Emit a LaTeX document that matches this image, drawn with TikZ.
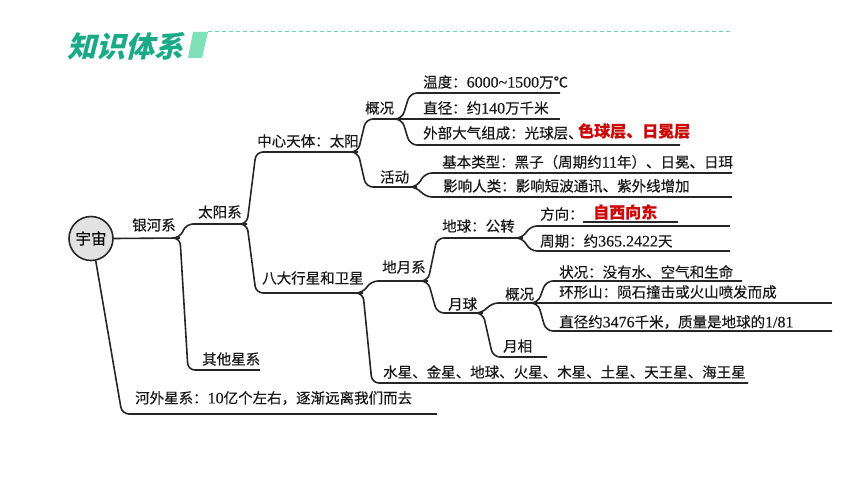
\documentclass[tikz,border=0pt]{standalone}
\usepackage{fontspec}
\setmainfont{Noto Sans CJK SC}[FakeBold=0.35]
\newfontfamily\dgfont{Liberation Serif}[Scale=1.1, FakeBold=0.35]
\newfontfamily\headfont[BoldFeatures={FakeSlant=0.25}]{Noto Sans CJK SC}
\newcommand\dg[1]{{\dgfont #1}}
\usetikzlibrary{calc}
\definecolor{headgreen}{HTML}{1AAA88}
\definecolor{barcol}{HTML}{80E0B8}
\definecolor{dashcol}{HTML}{6CD2B4}
\definecolor{ansred}{HTML}{CC0A0A}
\definecolor{rootfill}{HTML}{E2E2E2}
\tikzset{
  txt/.style={anchor=west, inner sep=0pt, text=black!90, font=\fontsize{14.5}{16}\selectfont},
  redtxt/.style={anchor=west, inner sep=0pt, text=ansred, font=\fontsize{16}{18}\selectfont\bfseries},
  conn/.style={line width=1.6pt, black!85, rounded corners=7pt},
  plain/.style={line width=1.6pt, black!85}
}
\begin{document}
\begin{tikzpicture}[x=1pt,y=-1pt]
\useasboundingbox (0,0) rectangle (860,484);
\fill[white] (0,0) rectangle (860,484);
% header
\node[anchor=west, inner sep=0pt, text=headgreen, font=\headfont\fontsize{29}{32}\selectfont\bfseries] (head) at (67,46) {知识体系};
\fill[barcol] (193,32) -- (208,32) -- (202,58) -- (188,58) -- cycle;
\draw[dashcol, line width=1pt, dash pattern=on 4pt off 3pt] (208,32) -- (730,32);
% root
\node[circle, draw=black!85, line width=1.6pt, fill=rootfill, minimum size=44pt, inner sep=0pt, font=\fontsize{15.5}{17}\selectfont] (yz) at (91,238.5) {宇宙};
% junction coordinates
\coordinate (jYH) at (180,238);
\coordinate (jTY) at (247,224);
\coordinate (jZX) at (358,152);
\coordinate (jGK) at (402,119);
\coordinate (jHD) at (417,187);
\coordinate (jBD) at (363,293);
\coordinate (jDY) at (428,281);
\coordinate (jDQ) at (523,238);
\coordinate (jYQ) at (483,313);
\coordinate (jYG) at (538,303);
% labels
\node[txt] (yhx) at (132,225) {银河系};
\node[txt] (tyx) at (198,212) {太阳系};
\node[txt] (qtxx) at (202,359) {其他星系};
\node[txt] (hwxx) at (135,398) {河外星系：\dg{10}亿个左右，逐渐远离我们而去};
\node[txt] (zxtt) at (257,141) {中心天体：太阳};
\node[txt] (bdxx) at (262,278) {八大行星和卫星};
\node[txt] (gk1) at (365,108) {概况};
\node[txt] (hd) at (380,177) {活动};
\node[txt] (wd) at (423,82) {温度：\dg{6000\textasciitilde 1500}万℃};
\node[txt] (zj) at (423,108) {直径：约\dg{140}万千米};
\node[txt] (wb) at (423,133) {外部大气组成：光球层、};
\node[redtxt] (wbr) at (578,131) {色球层、日冕层};
\node[txt] (jblx) at (442,162) {基本类型：黑子（周期约\dg{11}年）、日冕、日珥};
\node[txt] (yxrl) at (443,186) {影响人类：影响短波通讯、紫外线增加};
\node[txt] (dyx) at (382,267) {地月系};
\node[txt] (dqgz) at (442,226) {地球：公转};
\node[txt] (yq) at (448,304) {月球};
\node[txt] (fx) at (540,214) {方向：};
\node[redtxt] (fxr) at (593,212) {自西向东};
\node[txt] (zq) at (540,241) {周期：约\dg{365.2422}天};
\node[txt] (gk2) at (505,294) {概况};
\node[txt] (zk) at (559,272) {状况：没有水、空气和生命};
\node[txt] (hxs) at (559,292) {环形山：陨石撞击或火山喷发而成};
\node[txt] (zj2) at (559,322) {直径约\dg{3476}千米，质量是地球的\dg{1/81}};
\node[txt] (yx) at (503,346) {月相};
\node[txt] (sx) at (383,372) {水星、金星、地球、火星、木星、土星、天王星、海王星};
% connectors
\draw[plain] (yz.east) -- (jYH);
\draw[conn] (yz.-78) -- (122,414) -- (437,414);
\draw[conn] ([xshift=-8pt]jYH) -- (jYH) -- (186,224) -- (jTY);
\draw[conn] ([xshift=-8pt]jYH) -- (jYH) -- (188,370) -- (260,370);
\draw[conn] ([xshift=-8pt]jTY) -- (jTY) -- (256,152) -- (jZX);
\draw[conn] ([xshift=-8pt]jTY) -- (jTY) -- (256,293) -- (jBD);
\draw[conn] ([xshift=-8pt]jZX) -- (jZX) -- (366,119) -- (jGK);
\draw[conn] ([xshift=-8pt]jZX) -- (jZX) -- (366,187) -- (jHD);
\draw[conn] ([xshift=-8pt]jGK) -- (jGK) -- (410,93) -- (560,93);
\draw[plain] (jGK) -- (560,119);
\draw[conn] ([xshift=-8pt]jGK) -- (jGK) -- (410,145) -- (680,145);
\draw[conn] ([xshift=-8pt]jHD) -- (jHD) -- (425,173) -- (732,173);
\draw[conn] ([xshift=-8pt]jHD) -- (jHD) -- (425,197) -- (732,197);
\draw[conn] ([xshift=-8pt]jBD) -- (jBD) -- (371,281) -- (jDY);
\draw[conn] ([xshift=-8pt]jBD) -- (jBD) -- (372,383) -- (748,383);
\draw[conn] ([xshift=-8pt]jDY) -- (jDY) -- (437,238) -- (jDQ);
\draw[conn] ([xshift=-8pt]jDY) -- (jDY) -- (437,313) -- (jYQ);
\draw[conn] ([xshift=-8pt]jDQ) -- (jDQ) -- (530,226) -- (730,226);
\draw[conn] ([xshift=-8pt]jDQ) -- (jDQ) -- (530,251) -- (730,251);
\draw[line width=1.2pt, black!85] (583,222) -- (678,222);
\draw[conn] ([xshift=-8pt]jYQ) -- (jYQ) -- (491,303) -- (jYG);
\draw[conn] ([xshift=-8pt]jYQ) -- (jYQ) -- (493,357) -- (547,357);
\draw[conn] ([xshift=-8pt]jYG) -- (jYG) -- (546,281) -- (742,281);
\draw[plain] (jYG) -- (832,303);
\draw[conn] ([xshift=-8pt]jYG) -- (jYG) -- (546,331) -- (832,331);
\end{tikzpicture}
\end{document}
